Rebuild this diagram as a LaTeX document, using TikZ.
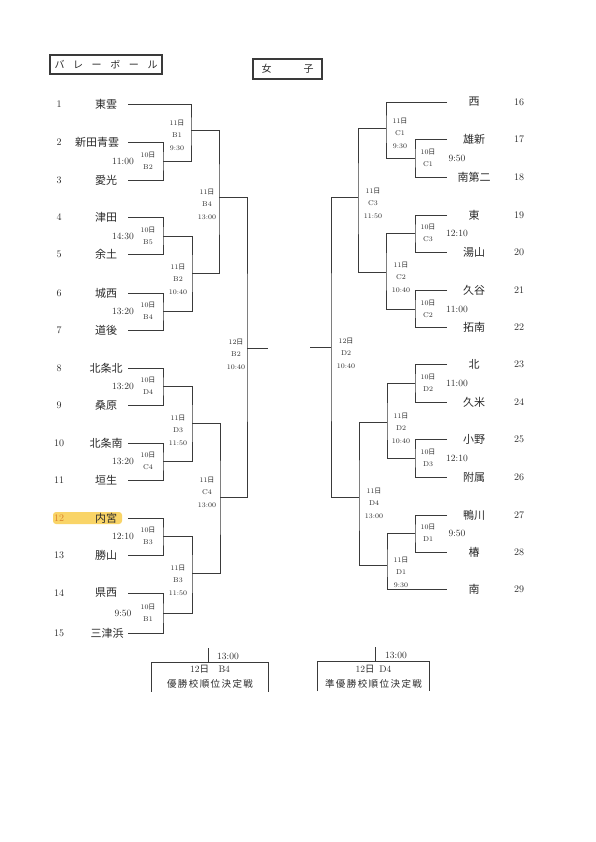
\documentclass[tikz,border=0pt]{standalone}
\usepackage{fontspec}
\usepackage{xcolor}
\usepackage{tikz}
\usetikzlibrary{calc}
\newfontfamily\jp{Noto Sans CJK JP}
\newfontfamily\jpwide[LetterSpace=15]{Noto Sans CJK JP}
\definecolor{ink}{HTML}{2B2B2B}
\definecolor{rule}{HTML}{3A3A3A}
\definecolor{marker}{HTML}{F9D467}
\definecolor{markink}{HTML}{D9822B}
\newcommand{\dday}[1]{#1{\jp 日}}

\begin{document}
\begin{tikzpicture}[
  x=1pt,y=-1pt,
  team/.style={font=\jp\fontsize{11}{11}\selectfont,text=ink,inner sep=0pt},
  num/.style={font=\fontsize{10}{10}\selectfont,text=ink,inner sep=0pt},
  slot/.style={font=\fontsize{7}{12.5}\selectfont,text=ink,align=center,inner sep=0pt},
  clock/.style={font=\fontsize{9.5}{10}\selectfont,text=ink,inner sep=0pt},
  bline/.style={draw=rule,line width=0.9pt},
  titlebox/.style={draw=rule,line width=1.1pt,minimum height=19pt,inner sep=0pt,font=\jp\fontsize{10}{10}\selectfont,text=ink},
  finalbox/.style={minimum height=29pt,inner sep=0pt,align=center,font=\fontsize{9.5}{15}\selectfont,text=ink}
]
\useasboundingbox[fill=white] (0,0) rectangle (596,842);

% headings
\node[titlebox,minimum width=112pt] (title) at (106,64.5) {バ\kern8.6ptレ\kern8.6ptー\kern8.6ptボ\kern8.6ptー\kern8.6ptル};
\node[titlebox,minimum width=69pt,minimum height=20pt] (girls) at (287.5,69) {女\kern32pt子};

% marker on 12
\fill[marker,rounded corners=3pt] (53,512) rectangle (122,524);

% left teams
\foreach \n/\name/\x/\y in {1/東雲/106/104,2/新田青雲/97/142,3/愛光/106/180,4/津田/106/217,
  5/余土/106/254,6/城西/106/293,7/道後/106/330,8/北条北/106/368,9/桑原/106/405,
  10/北条南/106/443,11/垣生/106/480,13/勝山/106/555,14/県西/106/593,15/三津浜/107/633}{
  \node[num] (n\n) at (59,\y) {\n};
  \node[team] (t\n) at (\x,\y) {\name};
  \coordinate (l\n) at (128,\y);
}
\node[num,text=markink] (n12) at (59,518) {12};
\node[team] (t12) at (106,518) {内宮};
\coordinate (l12) at (128,518);

% right teams
\foreach \n/\name/\y in {16/西/102,17/雄新/139,18/南第二/177,19/東/215,20/湯山/252,
  21/久谷/290,22/拓南/327,23/北/364,24/久米/402,25/小野/439,26/附属/477,
  27/鴨川/515,28/椿/552,29/南/589}{
  \node[team] (t\n) at (474,\y) {\name};
  \node[num] (n\n) at (519,\y) {\n};
  \coordinate (r\n) at (447,\y);
}

% first round, left
\foreach \m/\y/\code/\t in {23/161/B2/11:00,45/236/B5/14:30,67/311/B4/13:20,89/386/D4/13:20,
  1011/461/C4/13:20,1213/536/B3/12:10,1415/613/B1/9:50}{
  \coordinate (m\m) at (163,\y);
  \node[slot] (sl\m) at (148,\y) {\dday{10}\\\code};
  \node[clock] (tm\m) at (123,\y) {\t};
}

% first round, right
\foreach \m/\y/\code/\t in {1718/158/C1/9:50,1920/233/C3/12:10,2122/309/C2/11:00,
  2324/383/D2/11:00,2526/458/D3/12:10,2728/533/D1/9:50}{
  \coordinate (m\m) at (415,\y);
  \node[slot] (sl\m) at (428,\y) {\dday{10}\\\code};
  \node[clock] (tm\m) at (457,\y) {\t};
}

% later rounds, left
\coordinate (lb1) at (191,130);
\coordinate (lb2) at (192,273);
\coordinate (ld3) at (192,423);
\coordinate (lb3) at (192,573);
\coordinate (lb4) at (219,197);
\coordinate (lc4) at (220,497);
\coordinate (fl) at (247,348);
\coordinate (flo) at (268,348);
\node[slot] (slb1) at (177,135) {\dday{11}\\B1\\9:30};
\node[slot] (slb2) at (178,279) {\dday{11}\\B2\\10:40};
\node[slot] (sld3) at (178,430) {\dday{11}\\D3\\11:50};
\node[slot] (slb3) at (178,580) {\dday{11}\\B3\\11:50};
\node[slot] (slb4) at (207,204) {\dday{11}\\B4\\13:00};
\node[slot] (slc4) at (207,492) {\dday{11}\\C4\\13:00};
\node[slot] (slfl) at (236,354) {\dday{12}\\B2\\10:40};

% later rounds, right
\coordinate (rc1) at (386,128);
\coordinate (rc2) at (386,272);
\coordinate (rd2) at (387,422);
\coordinate (rd1) at (387,565);
\coordinate (rc3) at (358,197);
\coordinate (rd4) at (359,497);
\coordinate (fr) at (331,347);
\coordinate (fro) at (310,347);
\node[slot] (slrc1) at (400,133) {\dday{11}\\C1\\9:30};
\node[slot] (slrc2) at (401,277) {\dday{11}\\C2\\10:40};
\node[slot] (slrd2) at (401,428) {\dday{11}\\D2\\10:40};
\node[slot] (slrd1) at (401,572) {\dday{11}\\D1\\9:30};
\node[slot] (slrc3) at (373,203) {\dday{11}\\C3\\11:50};
\node[slot] (slrd4) at (374,503) {\dday{11}\\D4\\13:00};
\node[slot] (slfr) at (346,353) {\dday{12}\\D2\\10:40};

% left bracket
\draw[bline] (l2) -| (m23) |- (l3);
\draw[bline] (l4) -| (m45) |- (l5);
\draw[bline] (l6) -| (m67) |- (l7);
\draw[bline] (l8) -| (m89) |- (l9);
\draw[bline] (l10) -| (m1011) |- (l11);
\draw[bline] (l12) -| (m1213) |- (l13);
\draw[bline] (l14) -| (m1415) |- (l15);
\draw[bline] (l1) -| (lb1) |- (m23);
\draw[bline] (m45) -| (lb2) |- (m67);
\draw[bline] (m89) -| (ld3) |- (m1011);
\draw[bline] (m1213) -| (lb3) |- (m1415);
\draw[bline] (lb1) -| (lb4) |- (lb2);
\draw[bline] (ld3) -| (lc4) |- (lb3);
\draw[bline] (lb4) -| (fl) |- (lc4);
\draw[bline] (fl) -- (flo);

% right bracket
\draw[bline] (r17) -| (m1718) |- (r18);
\draw[bline] (r19) -| (m1920) |- (r20);
\draw[bline] (r21) -| (m2122) |- (r22);
\draw[bline] (r23) -| (m2324) |- (r24);
\draw[bline] (r25) -| (m2526) |- (r26);
\draw[bline] (r27) -| (m2728) |- (r28);
\draw[bline] (r16) -| (rc1) |- (m1718);
\draw[bline] (m1920) -| (rc2) |- (m2122);
\draw[bline] (m2324) -| (rd2) |- (m2526);
\draw[bline] (m2728) -| (rd1) |- (r29);
\draw[bline] (rc1) -| (rc3) |- (rc2);
\draw[bline] (rd2) -| (rd4) |- (rd1);
\draw[bline] (rc3) -| (fr) |- (rd4);
\draw[bline] (fr) -- (fro);

% placing matches
\node[finalbox,minimum width=116pt] (fbL) at (210,677) {\dday{12}\quad B4\\{\jpwide 優勝校順位決定戦}};
\node[finalbox,minimum width=111pt] (fbR) at (373.5,676.5) {\dday{12}\enspace D4\\{\jpwide 準優勝校順位決定戦}};
\draw[bline] (fbL.south west) |- (fbL.north east) -- (fbL.south east);
\draw[bline] (fbR.south west) |- (fbR.north east) -- (fbR.south east);
\coordinate (tkL) at (208,648);
\coordinate (tkR) at (375,647);
\draw[bline] (tkL) -- (tkL |- fbL.north);
\draw[bline] (tkR) -- (tkR |- fbR.north);
\node[clock] (tmL) at (228,656) {13:00};
\node[clock] (tmR) at (396,655) {13:00};
\end{tikzpicture}
\end{document}
